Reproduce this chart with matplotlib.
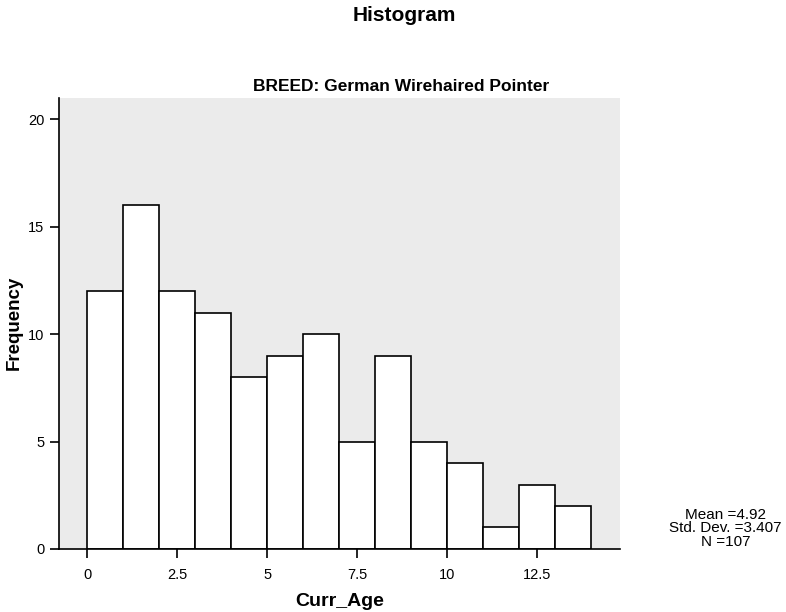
import matplotlib
matplotlib.use('Agg')
import matplotlib.pyplot as plt

plt.rcParams['font.family'] = ['Liberation Sans', 'DejaVu Sans']

# Histograma de edades (bins de ancho 1)
binIzquierdo = [0, 1, 2, 3, 4, 5, 6, 7, 8, 9, 10, 11, 12, 13]
frecuencias = [12, 16, 12, 11, 8, 9, 10, 5, 9, 5, 4, 1, 3, 2]
ticksX = [0, 2.5, 5, 7.5, 10, 12.5]
ticksY = [0, 5, 10, 15, 20]
estadisticas = "Mean =4.92\nStd. Dev. =3.407\nN =107"

fig = plt.figure(figsize=(7.86, 6.12), dpi=100)
ax = fig.add_axes([0.075, 0.103, 0.714, 0.737])
ax.set_facecolor('#ebebeb')

ax.bar(binIzquierdo, frecuencias, width=1, align='edge',
       color='white', edgecolor='black', linewidth=1.2)

ax.set_xlim(-0.79, 14.8)
ax.set_ylim(0, 21)
ax.set_xticks(ticksX)
ax.set_xticklabels(['0', '2.5', '5', '7.5', '10', '12.5'])
ax.set_yticks(ticksY)
ax.tick_params(axis='both', direction='out', length=6.5, width=1.2, labelsize=10.5)
ax.tick_params(axis='x', pad=7)
ax.tick_params(axis='y', pad=4)

for lado in ['top', 'right']:
    ax.spines[lado].set_visible(False)
for lado in ['left', 'bottom']:
    ax.spines[lado].set_linewidth(1.2)

ax.set_xlabel('Curr_Age', fontsize=14, fontweight='bold', labelpad=8)
fig.text(0.018, 0.472, 'Frequency', rotation=90, ha='center', va='center',
         fontsize=13.5, fontweight='bold')

fig.text(0.515, 0.975, 'Histogram', ha='center', va='center', fontsize=15, fontweight='bold')
fig.text(0.51, 0.858, 'BREED: German Wirehaired Pointer', ha='center', va='center',
         fontsize=12.5, fontweight='bold')
fig.text(0.923, 0.137, estadisticas, ha='center', va='center', fontsize=11,
         multialignment='center', linespacing=0.95)

plt.savefig('out.png', dpi=100)
